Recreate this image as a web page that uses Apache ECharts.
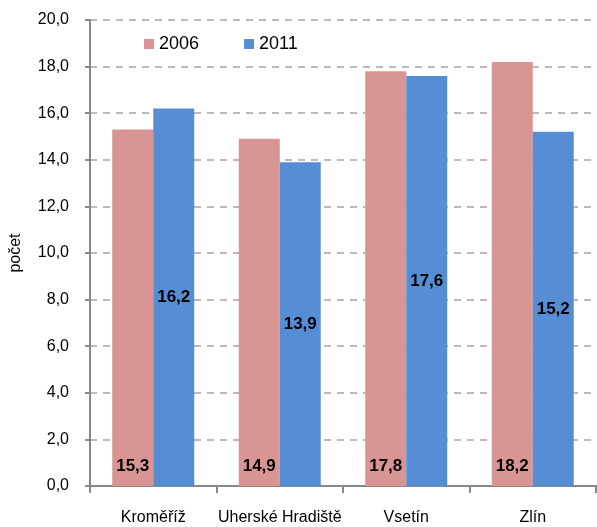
<!DOCTYPE html>
<html>
<head>
<meta charset="utf-8">
<script src="https://cdn.jsdelivr.net/npm/echarts@6/dist/echarts.min.js"></script>
<style>
  html, body { margin: 0; padding: 0; background: #fff; }
  #chart { width: 597px; height: 527px; }
</style>
</head>
<body>
<div id="chart"></div>
<script>
// data
var categories = ['Kroměříž', 'Uherské Hradiště', 'Vsetín', 'Zlín'];
var values2006 = [15.3, 14.9, 17.8, 18.2];
var values2011 = [16.2, 13.9, 17.6, 15.2];
var seriesNames = ['2006', '2011'];

var fmt = function (v) { return v.toFixed(1).replace('.', ','); };

var myChart = echarts.init(document.getElementById('chart'));
var option = {
  animation: false,
  textStyle: { fontFamily: 'Liberation Sans, Arial, sans-serif' },
  legend: {
    top: 30,
    left: 139,
    itemWidth: 10,
    itemHeight: 10,
    itemGap: 45,
    icon: 'rect',
    textStyle: { fontSize: 18, color: '#000' },
    data: seriesNames
  },
  grid: { left: 90, right: 1, top: 20, bottom: 41 },
  xAxis: {
    type: 'category',
    data: categories,
    axisLine: { lineStyle: { color: '#888', width: 2 } },
    axisTick: { show: true, interval: 0, length: 7, lineStyle: { color: '#888', width: 2 } },
    axisLabel: { interval: 0, fontSize: 16, color: '#000', margin: 24 }
  },
  yAxis: {
    type: 'value',
    min: 0,
    max: 20,
    interval: 2,
    name: 'počet',
    nameLocation: 'middle',
    nameGap: 66,
    nameTextStyle: { fontSize: 16, color: '#000' },
    axisLine: { show: true, lineStyle: { color: '#888', width: 2 } },
    axisTick: { show: true, length: 5, lineStyle: { color: '#888', width: 2 } },
    axisLabel: { fontSize: 16, color: '#000', margin: 21, formatter: fmt },
    splitLine: { lineStyle: { color: '#bbb', type: [7, 6], width: 2 } }
  },
  series: [
    {
      name: seriesNames[0],
      type: 'bar',
      data: values2006,
      barWidth: 41,
      barGap: '0%',
      itemStyle: { color: '#d99594' },
      label: {
        show: true, position: 'insideBottom', distance: 11,
        formatter: function (p) { return fmt(p.value); },
        fontSize: 17, fontWeight: 'bold', color: '#000'
      }
    },
    {
      name: seriesNames[1],
      type: 'bar',
      data: values2011,
      barWidth: 41,
      itemStyle: { color: '#558ed5' },
      label: {
        show: true, position: 'inside',
        formatter: function (p) { return fmt(p.value); },
        fontSize: 17, fontWeight: 'bold', color: '#000'
      }
    }
  ]
};
myChart.setOption(option);
</script>
</body>
</html>
